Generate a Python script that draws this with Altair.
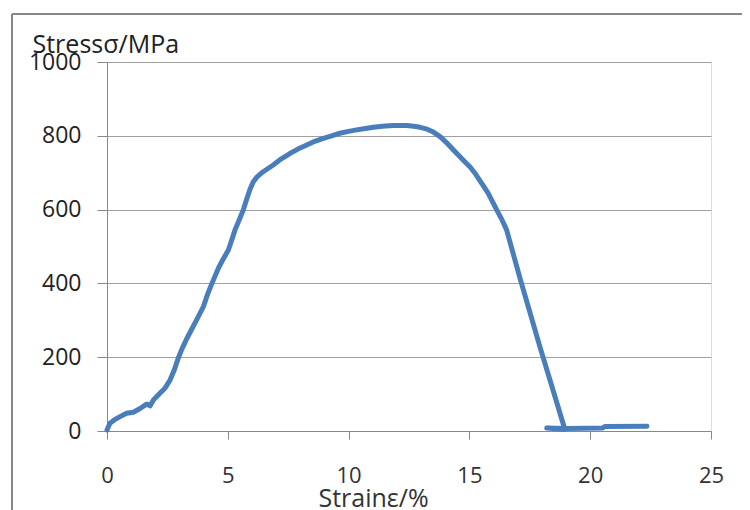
import altair as alt
import pandas as pd

strain = [0.0, 0.12, 0.30, 0.54, 0.81, 1.09, 1.37, 1.64, 1.78, 1.92, 2.19, 2.40, 2.61,
          2.80, 2.95, 3.10, 3.30, 3.50, 3.71, 3.99, 4.15, 4.33, 4.61, 4.80, 5.02,
          5.15, 5.30, 5.47, 5.64, 5.78, 5.92, 6.05, 6.20, 6.45, 6.88, 7.20, 7.57,
          7.90, 8.27, 8.60, 8.95, 9.30, 9.64, 10.00, 10.33, 10.70, 11.02, 11.40,
          11.85, 12.40, 12.70, 12.96, 13.25, 13.51, 13.80, 14.06, 14.33, 14.61,
          14.85, 15.02, 15.25, 15.44, 15.60, 15.78, 15.95, 16.13, 16.35, 16.54,
          17.09, 17.92, 18.95, 18.20, 19.00, 20.50, 20.60, 22.35]
stress = [3, 21, 30, 39, 48, 51, 61, 73, 68, 84, 102, 116, 138,
          168, 198, 222, 250, 275, 301, 337, 368, 398, 441, 465, 490,
          515, 545, 572, 599, 628, 655, 675, 688, 702, 721, 737, 752,
          764, 775, 785, 793, 800, 807, 812, 816, 820, 823, 826,
          828, 828, 826, 823, 818, 810, 797, 781, 762, 743,
          727, 716, 697, 678, 662, 644, 622, 599, 572, 545,
          415, 228, 5, 8, 7, 8, 12, 13]

df = pd.DataFrame({"strain": strain, "stress": stress, "i": list(range(len(strain)))})

W, H = 604, 369
FONT = "Open Sans"

line = alt.Chart(df).mark_line(
    color="#4a7ebb", strokeWidth=5, strokeCap="round", strokeJoin="round"
).encode(
    x=alt.X("strain:Q", scale=alt.Scale(domain=[0, 25], nice=False),
            axis=alt.Axis(values=[0, 5, 10, 15, 20, 25], grid=False, title="Strainε/%",
                          titleFont=FONT, titleFontSize=25, titleFontWeight="normal",
                          titleColor="#333", titleX=266, titleY=75,
                          titleAlign="center", titleBaseline="alphabetic",
                          labelFont=FONT, labelFontSize=22, labelColor="#333",
                          labelPadding=26, tickSize=8, tickColor="#888",
                          domainColor="#888", labelFlush=False, format="d")),
    y=alt.Y("stress:Q", scale=alt.Scale(domain=[0, 1000], nice=False),
            axis=alt.Axis(values=[0, 200, 400, 600, 800, 1000], grid=True,
                          gridColor="#a0a0a0", title="Stressσ/MPa",
                          titleFont=FONT, titleFontSize=25, titleFontWeight="normal",
                          titleColor="#222", titleAngle=0, titleX=-75, titleY=-10,
                          titleAlign="left", titleBaseline="alphabetic",
                          labelFont=FONT, labelFontSize=23, labelColor="#222",
                          labelPadding=16, tickSize=10, tickColor="#888",
                          domainColor="#888", labelFlush=False, format="d")),
    order="i:Q",
)

one = pd.DataFrame({"a": [0]})
left_border = alt.Chart(one).mark_rule(color="#888", strokeWidth=2).encode(
    x=alt.value(-95), y=alt.value(-48), y2=alt.value(H + 90))
top_border = alt.Chart(one).mark_rule(color="#888", strokeWidth=2).encode(
    x=alt.value(-95), x2=alt.value(W + 40), y=alt.value(-48))

chart = alt.layer(line, left_border, top_border).properties(
    width=W, height=H,
    autosize=alt.AutoSizeParams(type="none"),
    padding={"left": 99, "top": 54, "right": 31, "bottom": 79},
).configure_view(stroke=None).configure(background="white")

chart.save("out.html", embed_options={"renderer": "svg", "actions": False})
